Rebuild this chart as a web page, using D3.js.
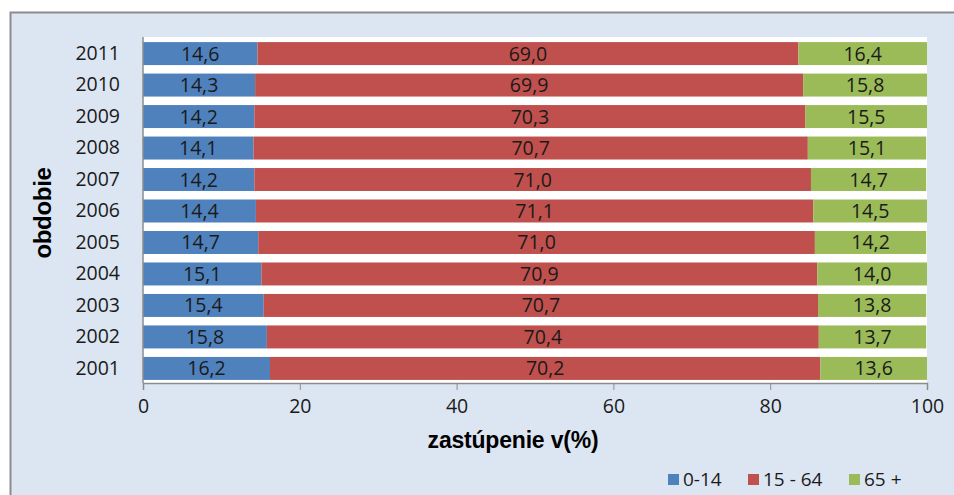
<!doctype html>
<html>
<head>
<meta charset="utf-8">
<script src="https://cdnjs.cloudflare.com/ajax/libs/d3/7.8.5/d3.min.js"></script>
<style>
  body { margin: 0; background: #fff; }
  text { font-family: "Open Sans", "Lato", sans-serif; fill: #1a1a1a; }
  .title { font-family: "Liberation Sans", Arial, sans-serif; font-weight: bold; fill: #000; }
</style>
</head>
<body>
<svg id="chart" width="954" height="495"></svg>
<script>
var years = ["2011","2010","2009","2008","2007","2006","2005","2004","2003","2002","2001"];
var age0_14  = [14.6,14.3,14.2,14.1,14.2,14.4,14.7,15.1,15.4,15.8,16.2];
var age15_64 = [69.0,69.9,70.3,70.7,71.0,71.1,71.0,70.9,70.7,70.4,70.2];
var age65    = [16.4,15.8,15.5,15.1,14.7,14.5,14.2,14.0,13.8,13.7,13.6];
var seriesNames = ["0-14", "15 - 64", "65 +"];
var colors = ["#4f81bd", "#c0504d", "#9bbb59"];
var xTicks = [0,20,40,60,80,100];

var rows = years.map(function(y, i) {
  return { year: y, "0-14": age0_14[i], "15 - 64": age15_64[i], "65 +": age65[i] };
});
var stacked = d3.stack().keys(seriesNames)(rows);

var svg = d3.select("#chart");

// outer frame
svg.append("rect").attr("x", 10.5).attr("y", 12.5).attr("width", 960).attr("height", 500)
  .attr("fill", "#dce6f2").attr("stroke", "#8c8c8c").attr("stroke-width", 2);

var pLeft = 143, pRight = 927, pTop = 37, pBottom = 383;
svg.append("rect").attr("x", pLeft).attr("y", pTop).attr("width", pRight - pLeft).attr("height", pBottom - pTop)
  .attr("fill", "#fff");

var x = d3.scaleLinear().domain([0, 100]).range([pLeft, pRight]);
var y = d3.scaleBand().domain(years).range([pTop + 1, pBottom + 1]).paddingInner(0.27).paddingOuter(0.13);

var fmt = function(v) { return d3.format(".1f")(v).replace(".", ","); };

var g = svg.append("g");
stacked.forEach(function(s, si) {
  var layer = g.append("g");
  layer.selectAll("rect").data(s).enter().append("rect")
    .attr("x", function(d) { return x(d[0]); })
    .attr("width", function(d) { return x(d[1]) - x(d[0]); })
    .attr("y", function(d) { return y(d.data.year); })
    .attr("height", y.bandwidth())
    .attr("fill", colors[si]);
  layer.selectAll("text").data(s).enter().append("text")
    .attr("x", function(d) { return (x(d[0]) + x(d[1])) / 2; })
    .attr("y", function(d) { return y(d.data.year) + y.bandwidth() / 2 + 7; })
    .attr("text-anchor", "middle")
    .style("font-size", "19.5px")
    .text(function(d) { return fmt(d.data[s.key]); });
});

// x axis
var xAxis = svg.append("g").attr("transform", "translate(0," + pBottom + ")")
  .call(d3.axisBottom(x).tickValues(xTicks).tickSize(7).tickPadding(9));
xAxis.select(".domain").attr("stroke", "#8c8c8c").attr("stroke-width", 1.5);
xAxis.selectAll(".tick line").attr("stroke", "#8c8c8c");
xAxis.selectAll("text").style("font-size", "19.5px").attr("fill", "#1a1a1a").attr("font-family", null);

// y axis
var yAxis = svg.append("g").attr("transform", "translate(" + pLeft + ",0)")
  .call(d3.axisLeft(y).tickSize(0).tickPadding(23));
yAxis.select(".domain").attr("stroke", "#8c8c8c").attr("stroke-width", 1.5).attr("d", "M0," + pTop + "V" + pBottom);
yAxis.selectAll("text").style("font-size", "19.5px").attr("fill", "#1a1a1a").attr("font-family", null);

// titles
svg.append("text").attr("class", "title").attr("x", 513).attr("y", 448).attr("text-anchor", "middle")
  .style("font-size", "23px").style("letter-spacing", "-0.2px").text("zastúpenie v(%)");
svg.append("text").attr("class", "title").attr("transform", "translate(51,213) rotate(-90)").attr("text-anchor", "middle")
  .style("font-size", "24px").style("letter-spacing", "-0.3px").text("obdobie");

// legend
var legendX = [668, 748, 849];
seriesNames.forEach(function(n, i) {
  svg.append("rect").attr("x", legendX[i]).attr("y", 474).attr("width", 11).attr("height", 11).attr("fill", colors[i]);
  svg.append("text").attr("x", legendX[i] + 15).attr("y", 486).style("font-size", "19px").text(n);
});
</script>
</body>
</html>
